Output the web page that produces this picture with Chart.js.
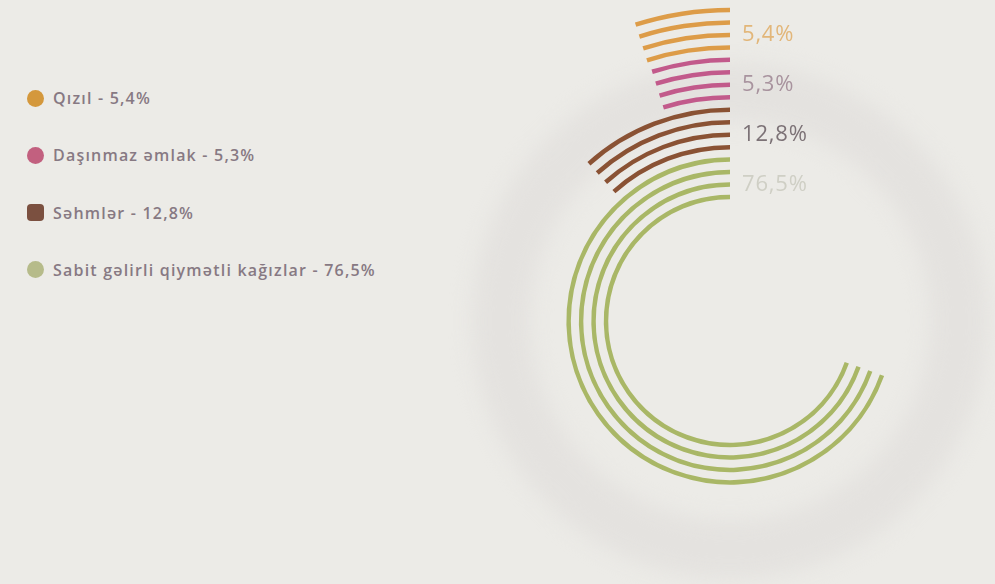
<!DOCTYPE html>
<html>
<head>
<meta charset="utf-8">
<script src="https://cdn.jsdelivr.net/npm/chart.js@4.4.1/dist/chart.umd.min.js"></script>
<style>
  html, body { margin: 0; padding: 0; width: 995px; height: 584px; overflow: hidden; background: #ecebe7; }
  body { position: relative; font-family: "Open Sans", sans-serif; }
  #halo { position: absolute; left: 450px; top: 41px; filter: blur(10px); }
  #rings { position: absolute; left: 415px; top: 6px; }
  #legend { position: absolute; left: 27px; top: 88px; margin: 0; padding: 0; list-style: none; }
  #legend li { display: flex; align-items: center; height: 20px; margin-bottom: 37.3px;
               color: #877983; font-size: 16px; font-weight: 600; letter-spacing: 1.2px; white-space: nowrap; }
  #legend .mark { width: 17px; height: 17px; border-radius: 50%; margin-right: 9px; flex: none; }
  #legend .mark.square { border-radius: 4px; }
</style>
</head>
<body>
<canvas id="halo" width="560" height="560"></canvas>
<canvas id="rings" width="630" height="630"></canvas>
<ul id="legend"></ul>
<script>
// Portfolio structure
const categories = ['Qızıl', 'Daşınmaz əmlak', 'Səhmlər', 'Sabit gəlirli qiymətli kağızlar'];
const shares = [5.4, 5.3, 12.8, 76.5];

// Value that would close a full turn of a track
const TRACK_MAX = 110;

// Styling
const stripeColors = ['#dd9c48', '#c25a8b', '#8a5234', '#a9b766'];
const markColors   = ['#d4983c', '#c2607f', '#7b5040', '#b6bb8a'];
const labelColors  = ['#e2b679', '#a8939e', '#7c7276', '#cfcfc5'];
const STRIPES = 4, STRIPE_W = 4.5, GAP_W = 8;
const CLEAR = 'rgba(0,0,0,0)';

const fmt = v => v.toFixed(1).replace('.', ',') + '%';

// HTML legend
const legend = document.getElementById('legend');
categories.forEach((name, i) => {
  const li = document.createElement('li');
  const mark = document.createElement('span');
  mark.className = 'mark' + (i === 2 ? ' square' : '');
  mark.style.background = markColors[i];
  li.appendChild(mark);
  li.appendChild(document.createTextNode(name + ' - ' + fmt(shares[i])));
  legend.appendChild(li);
});

// Soft background ring
new Chart(document.getElementById('halo'), {
  type: 'doughnut',
  data: { datasets: [{ data: [1], backgroundColor: ['#e4e2df'], borderWidth: 0 }] },
  options: {
    responsive: false, animation: false, events: [],
    cutout: 200, layout: { padding: 22 },
    plugins: { legend: { display: false }, tooltip: { enabled: false } }
  }
});

// Each category is drawn as four thin concentric tracks, separated by empty rings
const datasets = [];
categories.forEach((name, s) => {
  for (let k = 0; k < STRIPES; k++) {
    if (datasets.length) {
      datasets.push({ data: [1], backgroundColor: [CLEAR], weight: GAP_W, series: -1 });
    }
    datasets.push({
      label: name,
      data: [TRACK_MAX - shares[s], shares[s]],
      backgroundColor: [CLEAR, stripeColors[s]],
      weight: STRIPE_W,
      series: s
    });
  }
});

// Percentage labels next to the top ends of each group
const shareLabels = {
  id: 'shareLabels',
  afterDatasetsDraw(chart) {
    const ctx = chart.ctx;
    categories.forEach((name, s) => {
      const idx = chart.data.datasets.map((d, i) => d.series === s ? i : -1).filter(i => i >= 0);
      const first = chart.getDatasetMeta(idx[0]).data[1];
      const last = chart.getDatasetMeta(idx[idx.length - 1]).data[1];
      const midR = (first.outerRadius + last.innerRadius) / 2;
      ctx.save();
      ctx.font = '22px "Open Sans"';
      ctx.letterSpacing = '0.8px';
      ctx.fillStyle = labelColors[s];
      ctx.textBaseline = 'middle';
      ctx.fillText(fmt(shares[s]), first.x + 12, first.y - midR + 6);
      ctx.restore();
    });
  }
};

new Chart(document.getElementById('rings'), {
  type: 'doughnut',
  data: { datasets },
  options: {
    responsive: false, animation: false, events: [],
    cutout: 121.75,
    layout: { padding: 1.75 },
    elements: { arc: { borderWidth: 0, hoverOffset: 0 } },
    plugins: { legend: { display: false }, tooltip: { enabled: false } }
  },
  plugins: [shareLabels]
});
</script>
</body>
</html>
